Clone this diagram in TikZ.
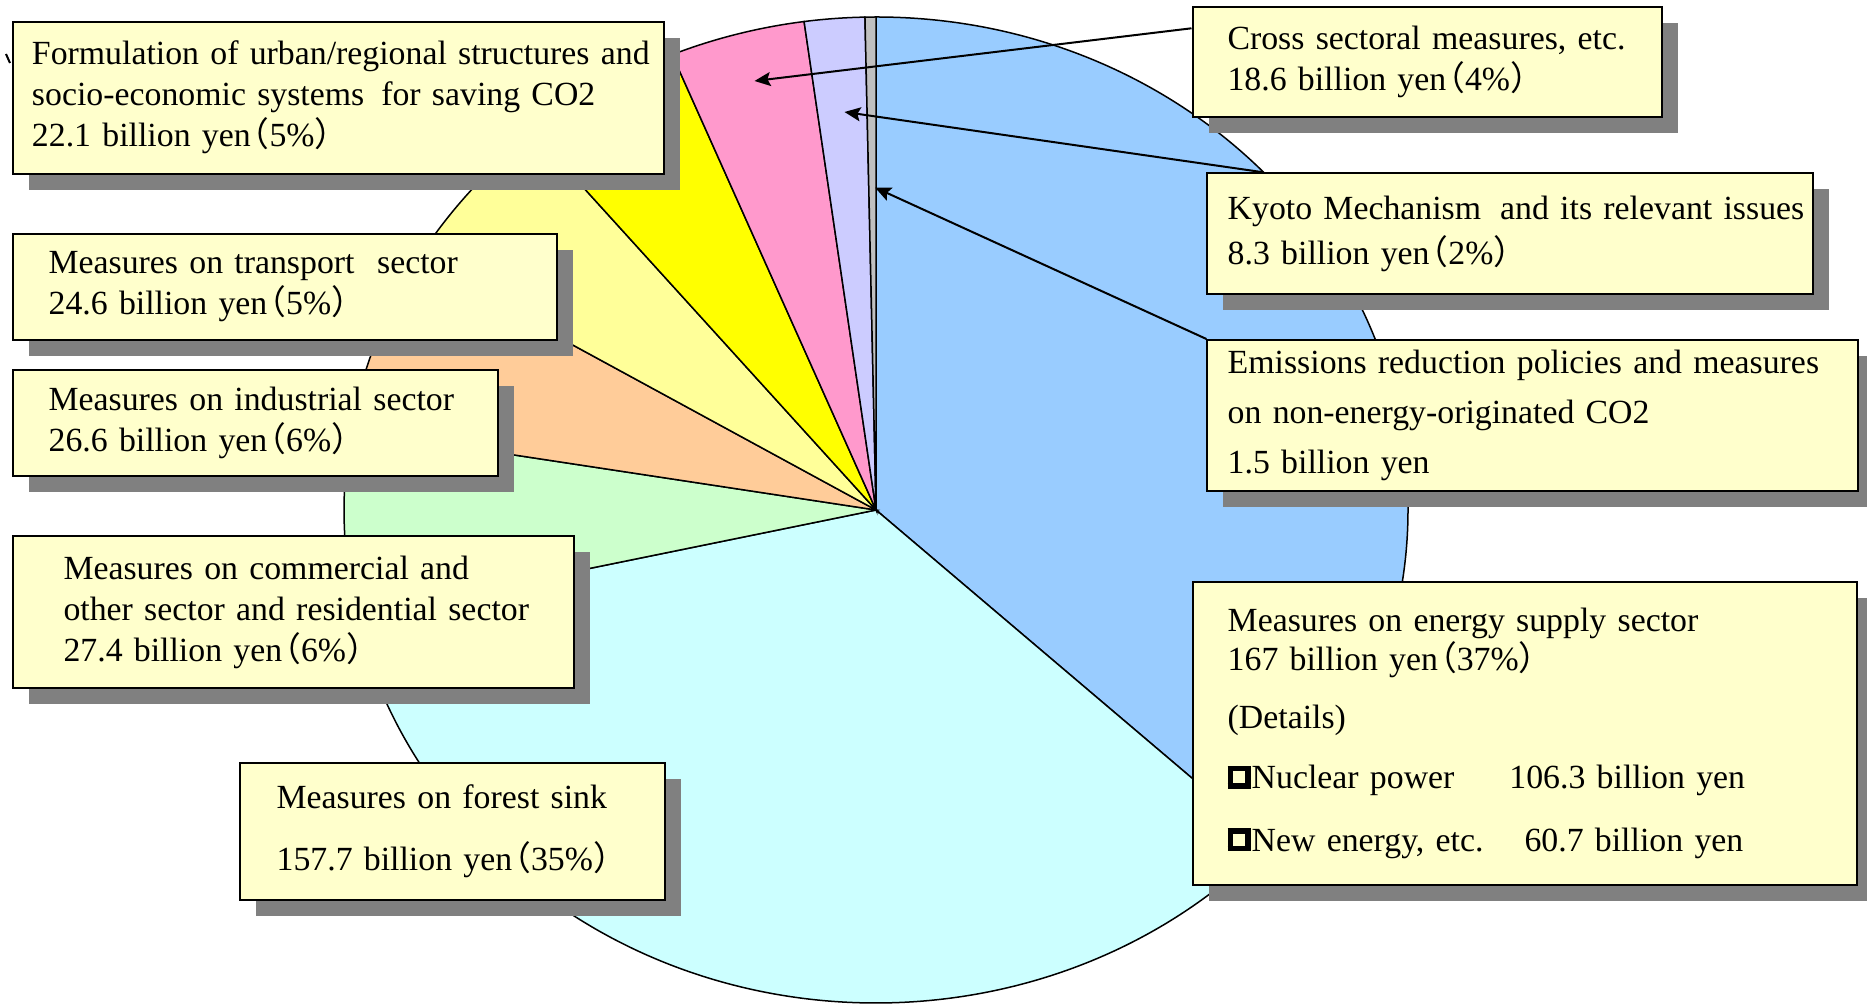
\documentclass[tikz,border=0pt]{standalone}
\usepackage{fontspec}
\setmainfont{Liberation Serif}
\newfontfamily\cjk{Noto Sans CJK JP}
\usepackage{tikz}
\usetikzlibrary{shadows,calc,arrows.meta}

\definecolor{energyblue}{HTML}{99CCFF}
\definecolor{forestcyan}{HTML}{CCFFFF}
\definecolor{commgreen}{HTML}{CCFFCC}
\definecolor{indpeach}{HTML}{FFCC99}
\definecolor{transyellow}{HTML}{FFFF99}
\definecolor{formyellow}{HTML}{FFFF00}
\definecolor{crosspink}{HTML}{FF99CC}
\definecolor{kyotolav}{HTML}{CCCCFF}
\definecolor{cotwogray}{HTML}{C0C0C0}
\definecolor{boxfill}{HTML}{FFFFCC}
\definecolor{shadowgray}{HTML}{808080}

\newcommand{\zlp}{\kern-7.5pt{\cjk （}}
\newcommand{\zrp}{{\cjk ）}}
\newcommand{\sqbox}{\kern1.5pt\raisebox{2.8pt}{\fboxsep=0pt\fboxrule=2.8pt\fbox{\rule{0pt}{5.9pt}\hspace{5.9pt}}}\kern0.5pt}

\begin{document}
\begin{tikzpicture}[x=0.5pt,y=-0.5pt,
    slice/.style={draw=black,line width=0.75pt},
    infobox/.style={shape=rectangle,draw=black,line width=1pt,fill=boxfill,
      anchor=north west,align=left,inner ysep=0pt,
      font=\fontsize{16.9pt}{20.5pt}\selectfont,
      drop shadow={shadow xshift=8pt,shadow yshift=-8pt,fill=shadowgray,opacity=1}},
    leader/.style={-{Stealth[length=8pt,width=7pt,inset=1.5pt]},line width=1pt}]
  \useasboundingbox (0,0) rectangle (1867,1004);
  \coordinate (pc) at (876,510);

  % pie slices, clockwise from the top
  \filldraw[slice,fill=energyblue] (pc) -- +(-90:532 and 493) arc[start angle=-90,end angle=42.48,x radius=532,y radius=493] -- cycle;
  \filldraw[slice,fill=forestcyan] (pc) -- +(42.48:532 and 493) arc[start angle=42.48,end angle=167.58,x radius=532,y radius=493] -- cycle;
  \filldraw[slice,fill=commgreen] (pc) -- +(167.58:532 and 493) arc[start angle=167.58,end angle=189.32,x radius=532,y radius=493] -- cycle;
  \filldraw[slice,fill=indpeach] (pc) -- +(189.32:532 and 493) arc[start angle=189.32,end angle=210.42,x radius=532,y radius=493] -- cycle;
  \filldraw[slice,fill=transyellow] (pc) -- +(210.42:532 and 493) arc[start angle=210.42,end angle=229.94,x radius=532,y radius=493] -- cycle;
  \filldraw[slice,fill=formyellow] (pc) -- +(229.94:532 and 493) arc[start angle=229.94,end angle=247.47,x radius=532,y radius=493] -- cycle;
  \filldraw[slice,fill=crosspink] (pc) -- +(247.47:532 and 493) arc[start angle=247.47,end angle=262.23,x radius=532,y radius=493] -- cycle;
  \filldraw[slice,fill=kyotolav] (pc) -- +(262.23:532 and 493) arc[start angle=262.23,end angle=268.81,x radius=532,y radius=493] -- cycle;
  \filldraw[slice,fill=cotwogray] (pc) -- +(268.81:532 and 493) arc[start angle=268.81,end angle=270,x radius=532,y radius=493] -- cycle;

  \draw[line width=1pt] (6,54) -- (10,63);

  % label boxes
  \node[infobox,minimum height=76pt,inner xsep=9.5pt,text width=306.5pt] (form) at (12,20.7)
    {\mbox{Formulation of urban/regional structures and}\\ \mbox{socio-economic systems\hspace{8.5pt}for saving CO2}\\ \mbox{22.1 billion yen\zlp 5\%\zrp}};
  \node[infobox,minimum height=53.15pt,inner xsep=17.8pt,text width=236.4pt] (transp) at (12,232.7)
    {\mbox{Measures on transport\ \ sector}\\ \mbox{24.6 billion yen\zlp 5\%\zrp}};
  \node[infobox,minimum height=53.15pt,inner xsep=17.8pt,text width=206.9pt] (indus) at (12,368.7)
    {\mbox{Measures on industrial sector}\\ \mbox{26.6 billion yen\zlp 6\%\zrp}};
  \node[infobox,minimum height=75.85pt,inner xsep=25.25pt,text width=229.8pt] (comm) at (12,535.3)
    {Measures on commercial and\\ \mbox{other sector and residential sector}\\ \mbox{27.4 billion yen\zlp 6\%\zrp}};
  \node[infobox,minimum height=68.2pt,inner xsep=18.5pt,text width=175.5pt] (forest) at (238.6,762.3)
    {Measures on forest sink\\[10.5pt] \mbox{157.7 billion yen\zlp 35\%\zrp}};
  \node[infobox,minimum height=55pt,inner xsep=17.5pt,text width=199.75pt] (cross) at (1191.5,5.7)
    {\mbox{Cross sectoral measures, etc.}\\ \mbox{18.6 billion yen\zlp 4\%\zrp}};
  \node[infobox,minimum height=60.5pt,inner xsep=10.15pt,text width=282.35pt] (kyoto) at (1206.4,172.3)
    {\mbox{Kyoto Mechanism\hspace{9.5pt}and its relevant issues}\\[2pt] \mbox{8.3 billion yen\zlp 2\%\zrp}};
  \node[infobox,minimum height=75.5pt,inner xsep=10.15pt,text width=305.2pt] (emis) at (1206.4,339)
    {\mbox{Emissions reduction policies and measures}\\[4.5pt] on non-energy-originated CO2\\[4.5pt] 1.5 billion yen};
  \node[infobox,minimum height=151.35pt,inner xsep=17.6pt,text width=296.8pt] (energy) at (1191.5,581)
    {Measures on energy supply sector\\[-1.3pt] \mbox{167 billion yen\zlp 37\%\zrp}\\[8.65pt] (Details)\\[8.15pt]
     \sqbox Nuclear power\hspace{27.5pt}106.3 billion yen\\[9.2pt] \sqbox New energy, etc.\hspace{20.5pt}60.7 billion yen};

  % leader lines
  \coordinate (crossTip) at (754.5,81);
  \coordinate (kyotoTip) at (844.5,112);
  \coordinate (cotwoTip) at (875,187.5);
  \draw[leader] ($(cross.north west)+(0,22.6)$) -- (crossTip);
  \draw[leader] ($(kyoto.north west)+(57,0)$) -- (kyotoTip);
  \draw[leader] (emis.north west) -- (cotwoTip);
\end{tikzpicture}
\end{document}
